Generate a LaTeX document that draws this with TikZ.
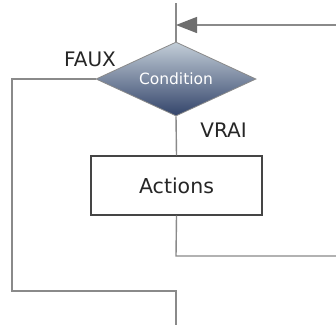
\documentclass[tikz,border=0pt]{standalone}
\usepackage{fontspec}
\setmainfont{DejaVu Sans}
\usetikzlibrary{shapes.geometric,arrows.meta}
\definecolor{linegray}{HTML}{8A8A8A}
\definecolor{boxgray}{HTML}{454545}
\definecolor{headgray}{HTML}{6E6E6E}
\definecolor{condtop}{HTML}{C3CED8}
\definecolor{condbot}{HTML}{33446A}
\begin{document}
\begin{tikzpicture}[x=1pt,y=-1pt,
  flow/.style={draw=linegray,line width=1.4pt},
  decision/.style={diamond,draw=linegray,line width=0.8pt,inner sep=0pt,
    minimum width=160pt,minimum height=74pt,aspect=2.16,
    top color=condtop,bottom color=condbot,text=white,
    font=\fontsize{15.5}{17}\selectfont},
  process/.style={rectangle,draw=boxgray,line width=1.4pt,fill=white,
    minimum width=171pt,minimum height=59pt,inner sep=0pt,
    font=\fontsize{20.5}{24}\selectfont,text=black!85},
  lbl/.style={font=\fontsize{20}{24}\selectfont,text=black!85,inner sep=0pt}]
  \fill[white] (0,0) rectangle (336,325);
  \useasboundingbox (0,0) rectangle (336,325);

  \coordinate (top) at (176,3);
  \coordinate (loopin) at (336,25);
  \coordinate (merge) at (176,25);
  \coordinate (loopout) at (336,256);
  \coordinate (leftup) at (12,79);
  \coordinate (leftdown) at (12,291);
  \coordinate (exitturn) at (176,291);
  \coordinate (exit) at (176,325);

  \node[decision] (cond) at (176,79) {Condition};
  \node[process] (act) at (176.5,185.5) {Actions};
  \coordinate (actbr) at (176,256);

  \node[lbl] (faux) at (90,59) {FAUX};
  \node[lbl] (vrai) at (223.5,130) {VRAI};

  % entry line and loop-back arrow
  \draw[flow] (top) -- (cond.north);
  \draw[flow,-{Triangle[length=21pt,width=16pt,color=headgray]}] (loopin) -- (merge);

  % true branch
  \draw[flow] (cond.south) -- (act.north);
  \draw[flow] (act.south) -- (actbr) -- (loopout);

  % false branch
  \draw[flow] (cond.west) -- (leftup) -- (leftdown) -- (exitturn) -- (exit);
\end{tikzpicture}
\end{document}
